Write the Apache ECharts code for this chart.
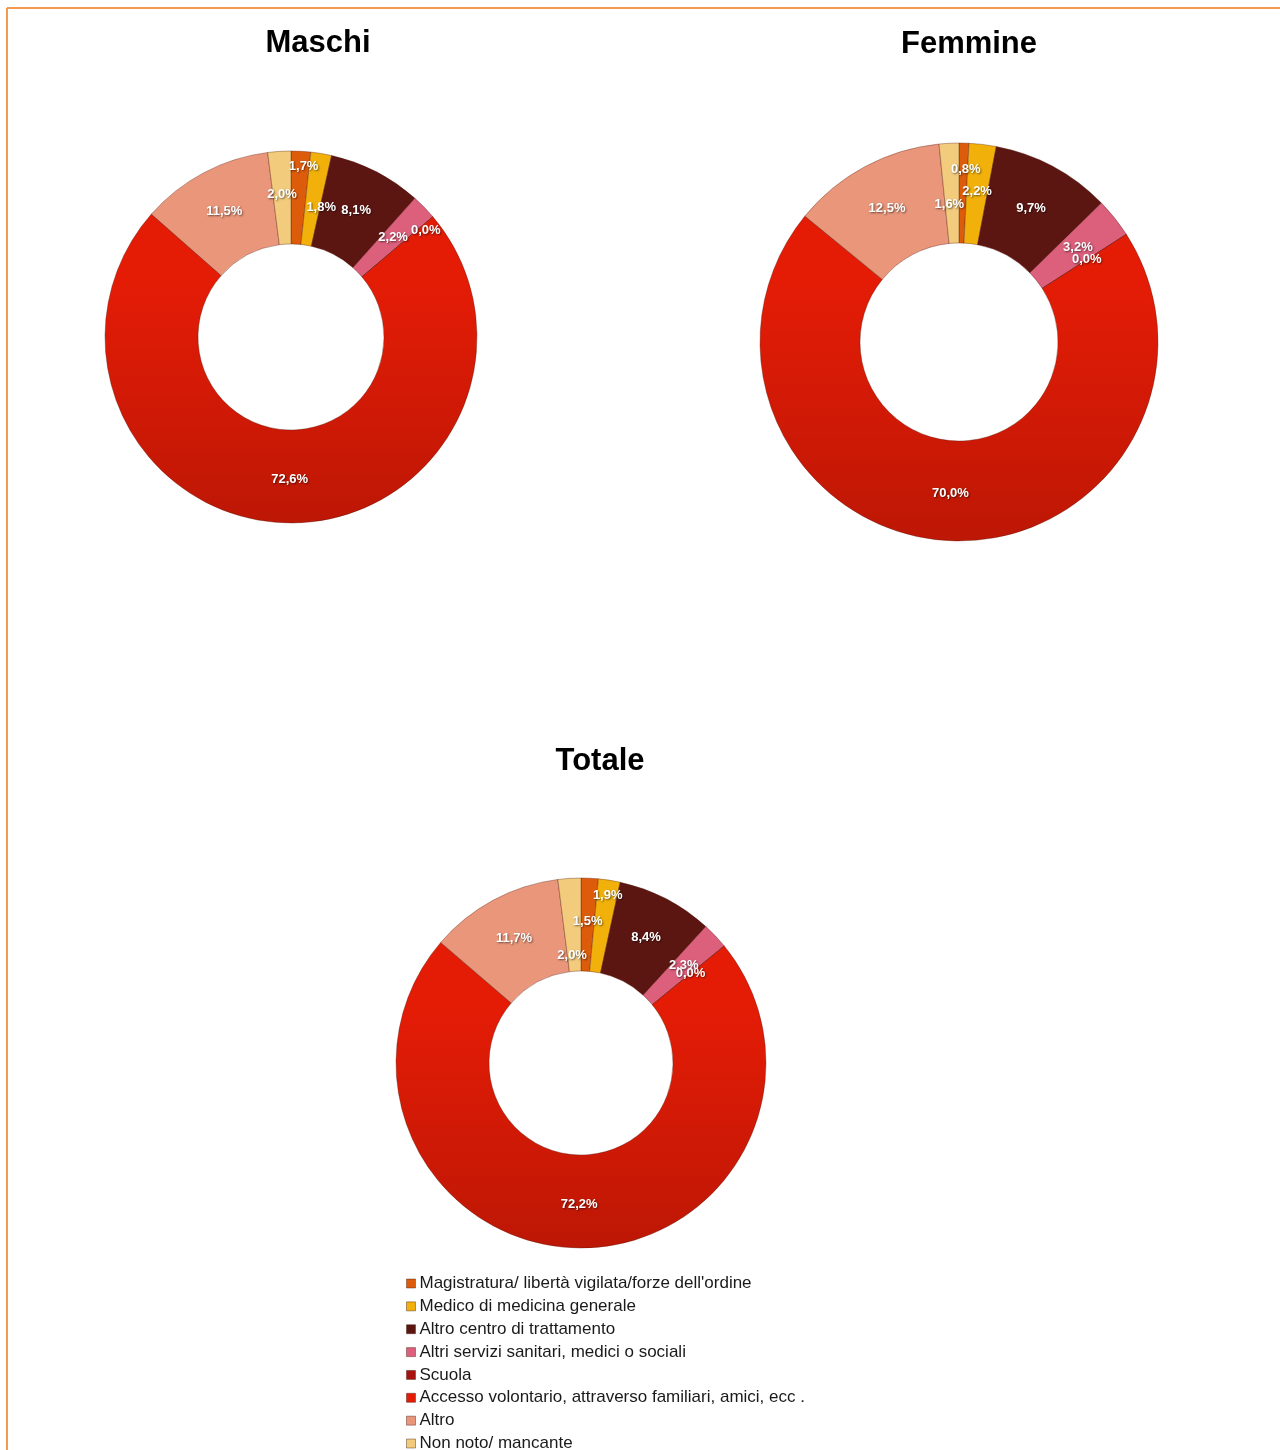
<!DOCTYPE html>
<html><head><meta charset="utf-8">
<script src="https://cdn.jsdelivr.net/npm/echarts@6/dist/echarts.min.js"></script>
<style>html,body{margin:0;padding:0;background:#fff}#c{width:1280px;height:1450px}</style>
</head><body><div id="c"></div>
<script>
const categories = [
  "Magistratura/ libertà vigilata/forze dell'ordine",
  "Medico di medicina generale",
  "Altro centro di trattamento",
  "Altri servizi sanitari, medici o sociali",
  "Scuola",
  "Accesso volontario, attraverso familiari, amici, ecc .",
  "Altro",
  "Non noto/ mancante"
];
const maschi  = [1.7, 1.8, 8.1, 2.2, 0.0, 72.6, 11.5, 2.0];
const femmine = [0.8, 2.2, 9.7, 3.2, 0.0, 70.0, 12.5, 1.6];
const totale  = [1.5, 1.9, 8.4, 2.3, 0.0, 72.2, 11.7, 2.0];
const titles = ["Maschi", "Femmine", "Totale"];

const colors = ['#dd5c0c', '#f2b10a', '#5c1612', '#dc5f7c', '#a8120e', '#e41c06', '#e9967a', '#f3cb7c'];
// label nudges (dx, dy) per chart per category, mimicking the reference's label placement
const nudges = [
  {0: [5, -28], 1: [7, 11], 4: [26, -14]},
  {0: [3, -21], 7: [-2, 14]},
  {1: [5, -28], 7: [0, 34]}
];
const layout = [
  {center: [291, 337], radius: [93, 186], title: [318, 43]},
  {center: [959, 342], radius: [99, 199], title: [969, 44]},
  {center: [581, 1063], radius: [92, 185], title: [600, 761]}
];
const fmt = v => v.toFixed(1).replace('.', ',') + '%';
const darken = (c, f) => {
  const n = parseInt(c.slice(1), 16);
  const r = Math.round(((n >> 16) & 255) * f), g = Math.round(((n >> 8) & 255) * f), b = Math.round((n & 255) * f);
  return 'rgb(' + r + ',' + g + ',' + b + ')';
};
// global vertical gradient spanning the whole donut: lit top, shaded bottom
const grad = (c, l) => new echarts.graphic.LinearGradient(
  0, l.center[1] - l.radius[1], 0, l.center[1] + l.radius[1], [
  {offset: 0, color: c},
  {offset: 0.35, color: c},
  {offset: 1, color: darken(c, 0.83)}
], true);

const chart = echarts.init(document.getElementById('c'));
const seriesData = [maschi, femmine, totale];
const series = seriesData.map((vals, si) => ({
  type: 'pie',
  name: titles[si],
  center: layout[si].center,
  radius: layout[si].radius,
  startAngle: 90,
  clockwise: true,
  avoidLabelOverlap: false,
  animation: false,
  data: categories.map((c, i) => ({name: c, value: vals[i], itemStyle: {color: grad(colors[i], layout[si])}})),
  itemStyle: {borderColor: 'rgba(80,20,10,0.35)', borderWidth: 1},
  label: {
    show: true, position: 'inside',
    formatter: p => fmt(p.value),
    color: '#fff', fontFamily: 'Liberation Sans, Arial', fontWeight: 'bold', fontSize: 13,
    textShadowColor: 'rgba(0,0,0,0.55)', textShadowBlur: 2, textShadowOffsetX: 1, textShadowOffsetY: 1
  },
  labelLine: {show: false},
  emphasis: {disabled: true},
  labelLayout: p => {
    const n = nudges[si][p.dataIndex];
    return n ? {dx: n[0], dy: n[1]} : {};
  }
}));

const graphics = layout.map((l, i) => ({
  type: 'text', x: l.title[0], y: l.title[1],
  style: {text: titles[i], fill: '#000', font: 'bold 31px "Liberation Sans", Arial', textAlign: 'center', textVerticalAlign: 'middle'}
}));
graphics.push({type: 'line', shape: {x1: 7, y1: 8, x2: 1280, y2: 8}, style: {stroke: '#f39a4e', lineWidth: 2}});
graphics.push({type: 'line', shape: {x1: 7, y1: 8, x2: 7, y2: 1450}, style: {stroke: '#f39a4e', lineWidth: 2}});

chart.setOption({
  color: colors,
  animation: false,
  legend: {
    orient: 'vertical', left: 406, top: 1275, height: 300, padding: 0,
    itemWidth: 9, itemHeight: 9, itemGap: 5.86, icon: 'rect',
    itemStyle: {borderColor: 'rgba(60,20,10,0.4)', borderWidth: 1},
    textStyle: {fontSize: 17, color: '#1a1a1a', fontFamily: 'Liberation Sans, Arial', padding: [0, 0, 0, -1]},
    data: categories.map((c, i) => ({name: c, itemStyle: {color: colors[i]}}))
  },
  series: series,
  graphic: graphics
});
</script></body></html>
